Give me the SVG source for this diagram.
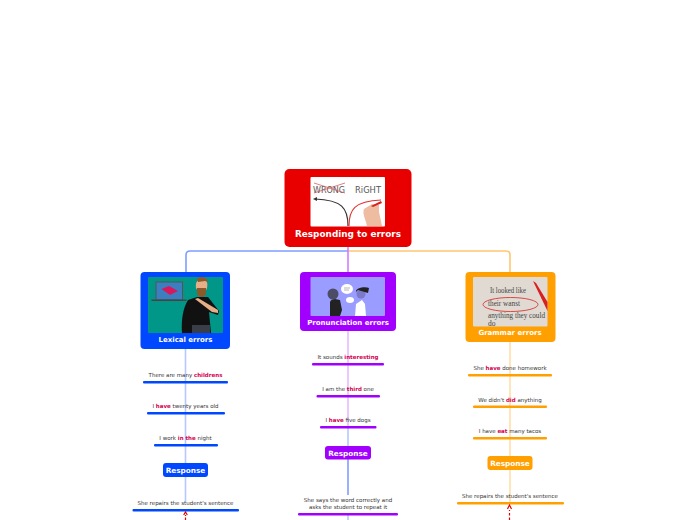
<svg xmlns="http://www.w3.org/2000/svg" width="696" height="520" viewBox="0 0 696 520">
<style>
text{font-family:"DejaVu Sans",Verdana,sans-serif;text-anchor:middle}
.t{font-size:5.5px;fill:#333}
.e{font-weight:bold;fill:#d5004f}
.h{font-size:7px;font-weight:bold;fill:#fff}
.r{font-size:7.3px;font-weight:bold;fill:#fff}
.bl{fill:#0048ff}.pu{fill:#a100ff}.or{fill:#ff9f00}
.c{fill:none;stroke-width:1.6}
.g{font-family:"Liberation Serif",serif;font-size:7.5px;fill:#444;text-anchor:start}
.d{fill:none;stroke:#e00000;stroke-width:1.2}
</style>
<rect width="696" height="520" fill="#fff"/>
<g id="connectors">
<path class="c" d="M348 251H190Q186 251 186 255V272" stroke="#7f9dff"/>
<path class="c" d="M348 251H506Q510 251 510 255V272" stroke="#ffc670"/>
<path class="c" d="M348 247V272" stroke="#cf7fff"/>
<path class="c" d="M185.500 349V502" stroke="#b5c8ff"/>
<path class="c" d="M348 331V428" stroke="#e6bcff"/>
<path class="c" d="M348 428V446" stroke="#b5c8ff"/>
<path class="c" d="M348 459V495" stroke="#7f9dff"/>
<path class="c" d="M348 514V520" stroke="#b5c8ff"/>
<path class="c" d="M510 342V502" stroke="#ffdfa8"/>
</g>

<g id="root">
<rect x="284.500" y="169" width="127" height="78" rx="5" fill="#e80000"/>
<rect x="310.500" y="177" width="74.500" height="49.500" rx="1" fill="#fff"/>
<text x="329" y="193" style="font-size:9.500px;fill:#555" textLength="32" lengthAdjust="spacingAndGlyphs">WRONG</text>
<text x="368" y="193" style="font-size:9.500px;fill:#555" textLength="26" lengthAdjust="spacingAndGlyphs">RiGHT</text>
<path d="M314 183L345 193M314 193L345 183" stroke="#d96060" stroke-width=".8" fill="none"/>
<path d="M348 226C348 208 342 200 315 199" fill="none" stroke="#333" stroke-width="1.200"/>
<path d="M317 197L313 199L317 201Z" fill="#333"/>
<path d="M349 226C349 210 354 201 381 200" fill="none" stroke="#e03030" stroke-width="1.100"/>
<path d="M367 226C366 220 362 214 364 209L372 204L379 205L379 212L382 226Z" fill="#eebca0"/>
<path d="M371 206L381 201L382 203L373 207Z" fill="#d82020"/>
<text class="h" x="348" y="237" style="font-size:8.900px">Responding to errors</text>
</g>

<g id="lexical">
<rect x="140.500" y="272" width="89.500" height="77" rx="4" class="bl"/>
<rect x="148" y="277" width="75" height="56" rx="1" fill="#009688"/>
<rect x="156" y="282" width="26.500" height="18" fill="#3c7fc0" stroke="#555" stroke-width="1"/>
<rect x="151.500" y="299.500" width="35" height="1.500" fill="#444"/>
<path d="M161.500 289L169 286L178 291L170 295Z" fill="#d8185c"/>
<path d="M182 333C181 320 183 308 188 300L197 297L208 297L219 311L218 315L209 312L211 333Z" fill="#111"/>
<rect x="192" y="325" width="18" height="8" fill="#3a3f47"/>
<path d="M196 288C195 282 198 279 202 279C207 279 208 283 207 288C206 293 198 293 196 288Z" fill="#e8ae88"/>
<path d="M197 279C199 276 207 276 208 282L205 281L198 282Z" fill="#8a5a2a"/>
<path d="M197 288L206 288L206 294C204 298 199 298 197 294Z" fill="#8a5a2a"/>
<path d="M195 299L198 298L218 310L218 313L212 312Z" fill="#e8ae88"/>
<text class="h" x="185.500" y="342">Lexical errors</text>
</g>

<g id="pronunciation">
<rect x="300" y="272" width="96" height="59" rx="4" class="pu"/>
<rect x="310.500" y="277" width="74.500" height="39" rx="1" fill="#9a9cff"/>
<path d="M330 316V302Q331 299 335 299L340 300L342 310L340 316Z" fill="#222"/>
<circle cx="333" cy="294" r="5.500" fill="#4c4c66"/>
<path d="M355 316L356 304L362 300L365 304L366 316Z" fill="#fff"/>
<circle cx="361" cy="294" r="4.500" fill="#7a7ac8"/>
<path d="M356 292C355 288 365 286 369 288L368 293L358 290Z" fill="#222"/>
<ellipse cx="347" cy="289" rx="6" ry="5" fill="#fff"/>
<path d="M344 288h6M344 290h5" stroke="#888" stroke-width=".6"/>
<ellipse cx="350" cy="300" rx="4" ry="3" fill="#fff"/>
<text class="h" x="348" y="325">Pronunciation errors</text>
</g>

<g id="grammar">
<rect x="465.500" y="272" width="90" height="70" rx="4" class="or"/>
<rect x="473" y="277" width="74.500" height="49.500" rx="1" fill="#e0dad2"/>
<text class="g" x="490" y="293" textLength="36" lengthAdjust="spacingAndGlyphs">It looked like</text>
<text class="g" x="488" y="306" textLength="32" lengthAdjust="spacingAndGlyphs">their wanst</text>
<text class="g" x="488" y="318" textLength="57" lengthAdjust="spacingAndGlyphs">anything they could</text>
<text class="g" x="488" y="326">do</text>
<ellipse cx="510.500" cy="304.500" rx="27.500" ry="7" fill="none" stroke="#d84848" stroke-width="1"/>
<path d="M533 281L536 283L547.500 302V311Z" fill="#d82020"/>
<text class="h" x="510" y="335">Grammar errors</text>
</g>

<g id="lex-items">
<text class="t" x="185.500" y="377">There are many <tspan class="e">childrens</tspan></text>
<rect x="143" y="381" width="85" height="2.500" rx="1" class="bl"/>
<text class="t" x="185.500" y="408">I <tspan class="e">have</tspan> twenty years old</text>
<rect x="147" y="412" width="78" height="2.500" rx="1" class="bl"/>
<text class="t" x="185.500" y="440">I work <tspan class="e">in the</tspan> night</text>
<rect x="154" y="444" width="64" height="2.500" rx="1" class="bl"/>
<g id="lex-response"><rect x="163" y="463" width="45" height="14" rx="3" class="bl"/><text class="r" x="185.500" y="473">Response</text></g>
<text class="t" x="185.500" y="505">She repairs the student's sentence</text>
<rect x="132.500" y="509" width="106.500" height="2.500" rx="1" class="bl"/>
</g>

<g id="pro-items">
<text class="t" x="348" y="359">It sounds <tspan class="e">interesting</tspan></text>
<rect x="312" y="363" width="72" height="2.500" rx="1" class="pu"/>
<text class="t" x="348" y="391">I am the <tspan class="e">third</tspan> one</text>
<rect x="316.500" y="395" width="63.500" height="2.500" rx="1" class="pu"/>
<text class="t" x="348" y="422">I <tspan class="e">have</tspan> five dogs</text>
<rect x="320" y="426" width="56.500" height="2.500" rx="1" class="pu"/>
<g id="pro-response"><rect x="325" y="446" width="46" height="13.500" rx="3" class="pu"/><text class="r" x="348" y="456">Response</text></g>
<text class="t" x="348" y="502">She says the word correctly and</text>
<text class="t" x="348" y="509">asks the student to repeat it</text>
<rect x="298" y="513" width="100" height="2.500" rx="1" class="pu"/>
</g>

<g id="gra-items">
<text class="t" x="510" y="370">She <tspan class="e">have</tspan> done homework</text>
<rect x="468" y="374" width="84" height="2.500" rx="1" class="or"/>
<text class="t" x="510" y="402">We didn't <tspan class="e">did</tspan> anything</text>
<rect x="473" y="405.500" width="74" height="2.500" rx="1" class="or"/>
<text class="t" x="510" y="433">I have <tspan class="e">eat</tspan> many tacos</text>
<rect x="473" y="437" width="74" height="2.500" rx="1" class="or"/>
<g id="gra-response"><rect x="487.500" y="456" width="45" height="14" rx="3" class="or"/><text class="r" x="510" y="466">Response</text></g>
<text class="t" x="510" y="498">She repairs the student's sentence</text>
<rect x="457" y="502" width="107" height="2.500" rx="1" class="or"/>
</g>

<g id="feedback-connectors">
<path class="d" d="M185.500 520V515" stroke-dasharray="2.500 1.500"/>
<path class="d" d="M183.700 515L185.500 512L187.300 515"/>
<path class="d" d="M509.500 520V510" stroke-dasharray="2.500 2"/>
<path class="d" d="M507.500 509L509.500 505L511.500 509"/>
</g>
</svg>
